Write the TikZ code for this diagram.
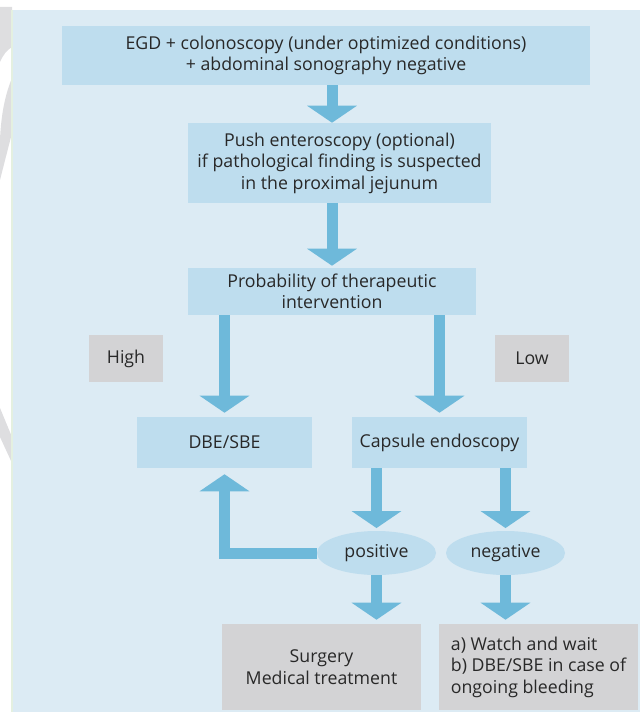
\documentclass[tikz,border=0pt]{standalone}
\usepackage{fontspec}
\setmainfont{Open Sans}
\usetikzlibrary{arrows.meta,shapes.geometric}

\definecolor{panelblue}{RGB}{220,235,244}
\definecolor{boxblue}{RGB}{190,221,238}
\definecolor{arrowblue}{RGB}{110,185,218}
\definecolor{boxgray}{RGB}{211,211,213}
\definecolor{markgray}{RGB}{222,222,224}
\definecolor{textgray}{RGB}{40,40,40}
\definecolor{edgegreen}{RGB}{228,240,224}

\tikzset{
  flowbox/.style={fill=boxblue, text=textgray, align=center, inner sep=0pt, font=\fontsize{13.3}{16.1}\selectfont},
  greybox/.style={flowbox, fill=boxgray},
  result/.style={flowbox, ellipse, minimum width=89.25pt, minimum height=33pt},
  fat/.style={draw=arrowblue, line width=8.25pt, -{Triangle[width=36.75pt,length=12.75pt]}},
}

\begin{document}
\begin{tikzpicture}[x=0.75pt,y=0.75pt,yscale=-1,xscale=1]
\useasboundingbox (0,0) rectangle (640,712);

%Watermark pieces at the left edge
\fill[markgray] (0,7) -- (12,7) -- (12,47) .. controls (7,50) and (3,55) .. (0,62) -- cycle;
\fill[markgray] (12,78) .. controls (5,95) and (1,115) .. (0,140) -- (0,180) -- (12,133) -- cycle;
\fill[markgray] (0,408) -- (12,437) -- (12,463) -- (0,437) -- cycle;

%Panel
\fill[panelblue] (12,10) rectangle (640,712);
\draw[edgegreen, line width=1.5pt] (12,10) -- (12,712);

% Text Node
\node[flowbox, minimum width=396pt, minimum height=44.25pt] (egd) at (326,55.5) {EGD + colonoscopy (under optimized conditions)\\+ abdominal sonography negative};
% Text Node
\node[flowbox, minimum width=227.25pt, minimum height=60pt] (push) at (339.5,163) {Push enteroscopy (optional)\\if pathological finding is suspected\\in the proximal jejunum};
% Text Node
\node[flowbox, minimum width=216pt, minimum height=35.25pt] (prob) at (332,291.5) {Probability of therapeutic\\intervention};
% Text Node
\node[greybox, minimum width=55.5pt, minimum height=35.25pt] (high) at (126,358.5) {High};
% Text Node
\node[greybox, minimum width=55.5pt, minimum height=35.25pt] (low) at (532,358.5) {Low};
% Text Node
\node[flowbox, minimum width=131.25pt, minimum height=38.25pt] (dbe) at (224.5,442.5) {DBE/SBE};
% Text Node
\node[flowbox, minimum width=131.25pt, minimum height=38.25pt] (caps) at (439.5,442.5) {Capsule endoscopy};
% Text Node
\node[result] (pos) at (376.5,553) {positive};
% Text Node
\node[result] (neg) at (505.5,553) {negative};
% Text Node
\node[greybox, minimum width=149.25pt, minimum height=64.5pt] (surg) at (321.5,667) {Surgery\\Medical treatment};
% Text Node
\node[greybox, minimum width=149.25pt, minimum height=64.5pt, align=left] (wait) at (538.5,667) {a) Watch and wait\\b) DBE/SBE in case of\\ongoing bleeding};

%Arrows
\draw[fat] (egd.south -| prob) -- (push.north -| prob);
\draw[fat, shorten >=1.5pt] (push.south -| prob) -- (prob.north);
\draw[fat, shorten >=3pt] (prob.south -| dbe) -- (dbe.north);
\draw[fat, shorten >=3pt] (prob.south -| caps) -- (caps.north);
\draw[fat, shorten >=2pt] (caps.south -| pos) -- (pos.north);
\draw[fat, shorten >=2pt] (caps.south -| neg) -- (neg.north);
\draw[fat, shorten >=4.5pt] (pos.west) -| (dbe.south);
\draw[fat, shorten >=3pt] (pos.south) -- (pos |- surg.north);
\draw[fat, shorten >=3pt] (neg.south) -- (neg |- wait.north);
\end{tikzpicture}
\end{document}
